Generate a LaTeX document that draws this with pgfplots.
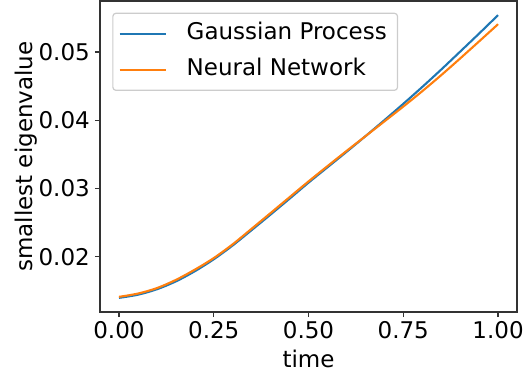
\documentclass[border=0pt]{standalone}
\usepackage{fontspec}
\setmainfont{DejaVu Sans}
\usepackage{pgfplots}
\pgfplotsset{compat=1.18}
\definecolor{mplblue}{HTML}{1F77B4}
\definecolor{mplorange}{HTML}{FF7F0E}
\begin{document}
\fontsize{23bp}{27bp}\selectfont
\begin{tikzpicture}[font=\fontsize{23bp}{27bp}\selectfont]
\begin{axis}[
  scale only axis,
  width=417bp, height=311bp,
  at={(0,0)}, anchor=south west,
  xmin=-0.05, xmax=1.05,
  ymin=0.0119, ymax=0.05747,
  axis line style={black!80, line width=1.15bp},
  tick style={black!80, line width=1.15bp},
  tick align=outside,
  major tick length=5bp,
  xtick pos=bottom, ytick pos=left,
  xtick={0,0.25,0.5,0.75,1},
  xticklabels={0.00,0.25,0.50,0.75,1.00},
  ytick={0.02,0.03,0.04,0.05},
  yticklabels={0.02,0.03,0.04,0.05},
  /pgf/number format/assume math mode=true,
  scaled ticks=false,
  xticklabel style={anchor=base, inner sep=0pt, yshift=-21.3bp},
  yticklabel style={anchor=east, inner sep=0pt, xshift=-5bp},
  every axis x label/.style={at={(axis description cs:0.5,-0.18)}, anchor=base},
  every axis y label/.style={at={(axis description cs:-0.163,0.5)}, rotate=90, anchor=base},
  xlabel={time},
  ylabel={smallest eigenvalue},
  legend cell align=left,
  legend style={
    at={(axis description cs:0,1)}, anchor=north west,
    xshift=12.3bp, yshift=-11.7bp,
    draw=black!20, line width=1.2bp, rounded corners=3bp,
    fill=white, fill opacity=0.8, text opacity=1,
    inner xsep=8.7bp, inner ysep=7bp,
    column sep=18bp, row sep=9bp,
    nodes={inner sep=2bp, text height=0.76em, text depth=0.24em},
  },
  legend image code/.code={\path (0bp,0bp) -- (43bp,0bp);\draw[#1,overlay] (-3bp,0bp) -- (43bp,0bp);},
]
\addplot[mplblue, line width=2.1bp, smooth] coordinates {
(0.00,0.01397) (0.05,0.01443) (0.10,0.01523) (0.15,0.01638) (0.20,0.01787)
(0.25,0.01962) (0.30,0.02165) (0.35,0.02390) (0.40,0.02618) (0.45,0.02850)
(0.50,0.03085) (0.55,0.03310) (0.60,0.03535) (0.65,0.03765) (0.70,0.04000)
(0.75,0.04240) (0.80,0.04487) (0.85,0.04742) (0.90,0.05005) (0.95,0.05270)
(1.00,0.05540)
};
\addlegendentry{Gaussian Process}
\addplot[mplorange, line width=2.1bp, smooth] coordinates {
(0.00,0.01412) (0.05,0.01460) (0.10,0.01540) (0.15,0.01660) (0.20,0.01810)
(0.25,0.01980) (0.30,0.02182) (0.35,0.02410) (0.40,0.02640) (0.45,0.02872)
(0.50,0.03103) (0.55,0.03327) (0.60,0.03548) (0.65,0.03765) (0.70,0.03982)
(0.75,0.04200) (0.80,0.04425) (0.85,0.04660) (0.90,0.04905) (0.95,0.05155)
(1.00,0.05407)
};
\addlegendentry{Neural Network}
\end{axis}
\pgfresetboundingbox
\useasboundingbox (-100bp,-63bp) rectangle (425bp,312bp);
\end{tikzpicture}
\end{document}
